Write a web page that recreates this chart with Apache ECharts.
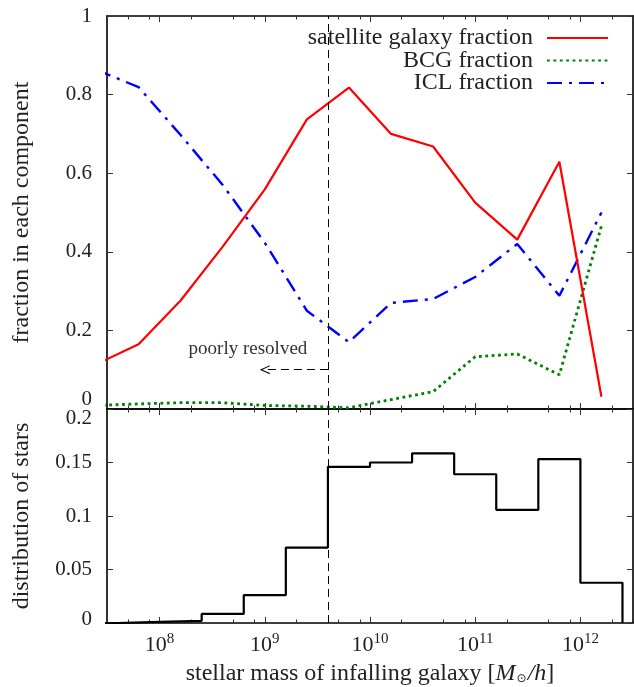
<!DOCTYPE html>
<html><head><meta charset="utf-8">
<script src="https://cdn.jsdelivr.net/npm/echarts@6/dist/echarts.min.js"></script>
<style>html,body{margin:0;padding:0;background:#fff}#c{width:634px;height:687px}</style>
</head><body><div id="c"></div>
<script>
// ---- data (x in log10 of stellar mass) ----
const logMass       = [7.4, 7.8, 8.2, 8.6, 9.0, 9.4, 9.8, 10.2, 10.6, 11.0, 11.4, 11.8, 12.2];
const satelliteFrac = [0.114, 0.165, 0.276, 0.413, 0.559, 0.737, 0.818, 0.700, 0.668, 0.525, 0.431, 0.629, 0.031];
const bcgFrac       = [0.009, 0.013, 0.016, 0.016, 0.009, 0.007, 0.003, 0.024, 0.044, 0.133, 0.140, 0.087, 0.466];
const iclFrac       = [0.863, 0.819, 0.697, 0.570, 0.423, 0.250, 0.170, 0.270, 0.280, 0.336, 0.420, 0.288, 0.500];
const binLowEdges   = [7.2, 7.6, 8.0, 8.4, 8.8, 9.2, 9.6, 10.0, 10.4, 10.8, 11.2, 11.6, 12.0];
const starDist      = [0, 0.001, 0.002, 0.0085, 0.026, 0.0705, 0.146, 0.150, 0.1586, 0.139, 0.1058, 0.1532, 0.0376];
const histEnd = 12.4;
const majorTicks = [8, 9, 10, 11, 12];
const minorMultipliers = [2, 5, 8];
const fracTicks = [0, 0.2, 0.4, 0.6, 0.8, 1];
const distTicks = [0, 0.05, 0.1, 0.15, 0.2];
const resolutionLimit = 9.6;
const arrowTip = 9.0, arrowLevel = 0.1;
const noteText = 'poorly resolved', notePos = [8.84, 0.152];
const seriesNames = ['satellite galaxy fraction', 'BCG fraction', 'ICL fraction'];
const xMin = 7.5, xMax = 12.5;

const minorTicks = [];
for (let d = 7; d <= 12; d++) minorMultipliers.forEach(m => {
  const v = d + Math.log10(m); if (v > xMin && v < xMax) minorTicks.push(v);
});

const FONT = '"Liberation Serif", "DejaVu Serif", serif';
const TXT = '#222';

function xAx(grid, pos, ticks, len, line, extra) {
  return Object.assign({
    type: 'value', gridIndex: grid, position: pos, min: xMin, max: xMax,
    axisLine: {show: line, onZero: false, lineStyle: {color: '#000', width: 1.6}},
    axisTick: {show: true, inside: true, length: len, customValues: ticks, lineStyle: {color: '#333', width: 1}},
    axisLabel: {show: false}, splitLine: {show: false}
  }, extra || {});
}
function yAx(grid, pos, ticks, extra) {
  return Object.assign({
    type: 'value', gridIndex: grid, position: pos, min: ticks[0], max: ticks[ticks.length - 1],
    axisLine: {show: true, onZero: false, lineStyle: {color: '#000', width: 1.6}},
    axisTick: {show: true, inside: true, length: 6, customValues: ticks, lineStyle: {color: '#333', width: 1}},
    axisLabel: {show: false}, splitLine: {show: false}
  }, extra || {});
}
const lblBase = {fontFamily: FONT, fontSize: 21, color: TXT};

const option = {
  animation: false,
  backgroundColor: '#fff',
  grid: [
    {left: 107, top: 16, width: 526, height: 393},
    {left: 107, top: 409, width: 526, height: 215}
  ],
  legend: {
    data: seriesNames, orient: 'vertical', right: 20, top: 21, align: 'right',
    itemWidth: 61, itemHeight: 10, itemGap: -1.5,
    itemStyle: {opacity: 0},
    textStyle: {fontFamily: FONT, fontSize: 24, color: TXT, lineHeight: 22.5, padding: [0, 9, 0, 0]}
  },
  xAxis: [
    xAx(0, 'bottom', majorTicks, 6, true),
    xAx(0, 'bottom', minorTicks, 3.5, false),
    xAx(0, 'top', majorTicks, 6, true),
    xAx(0, 'top', minorTicks, 3.5, false),
    xAx(1, 'bottom', majorTicks, 6, true, {
      axisLabel: {show: true, customValues: majorTicks, margin: 9,
        formatter: v => '{b|10}{s|' + v + '}',
        rich: {b: Object.assign({}, lblBase, {fontSize: 22}), s: Object.assign({}, lblBase, {fontSize: 15, padding: [0, 0, 12, 0]})}},
      name: 'stellar mass of infalling galaxy [{i|M}{sub|⊙}{i|/h}]',
      nameLocation: 'middle', nameGap: 39,
      nameTextStyle: {fontFamily: FONT, fontSize: 24, color: TXT,
        rich: {i: {fontFamily: FONT, fontSize: 24, fontStyle: 'italic', color: TXT},
               sub: {fontFamily: '"DejaVu Sans", sans-serif', fontSize: 12, color: TXT, padding: [10, 1, 0, 1]}}}
    }),
    xAx(1, 'bottom', minorTicks, 3.5, false),
    xAx(1, 'top', majorTicks, 6, true),
    xAx(1, 'top', minorTicks, 3.5, false)
  ],
  yAxis: [
    yAx(0, 'left', fracTicks, {
      axisLabel: {show: true, customValues: fracTicks, margin: 15,
        fontFamily: FONT, fontSize: 21, color: TXT,
        formatter: v => v === 0 ? '{up|0}' : String(v),
        rich: {up: Object.assign({}, lblBase, {padding: [0, 0, 20, 0]})}},
      name: 'fraction in each component', nameLocation: 'middle', nameRotate: 90, nameGap: 73,
      nameTextStyle: {fontFamily: FONT, fontSize: 24, color: TXT}
    }),
    yAx(0, 'right', fracTicks),
    yAx(1, 'left', distTicks, {
      axisLabel: {show: true, customValues: distTicks, margin: 15,
        fontFamily: FONT, fontSize: 21, color: TXT,
        formatter: v => v === 0 ? '{lo|0}' : (v === 0.2 ? '{dn|0.2}' : String(v)),
        rich: {lo: Object.assign({}, lblBase, {padding: [0, 0, 8, 0]}),
               dn: Object.assign({}, lblBase, {padding: [18, 0, 0, 0]})}},
      name: 'distribution of stars', nameLocation: 'middle', nameRotate: 90, nameGap: 73,
      nameTextStyle: {fontFamily: FONT, fontSize: 24, color: TXT}
    }),
    yAx(1, 'right', distTicks)
  ],
  series: [
    {
      name: seriesNames[0], type: 'line', xAxisIndex: 0, yAxisIndex: 0, symbol: 'none', z: 4,
      data: logMass.map((x, i) => [x, satelliteFrac[i]]),
      color: '#ff0000', lineStyle: {color: '#ff0000', width: 2.2},
      markLine: {
        silent: true, symbol: 'none', label: {show: false}, animation: false,
        lineStyle: {color: '#000', width: 1, type: [8, 5]},
        data: [
          {xAxis: resolutionLimit},
          [{coord: [resolutionLimit, arrowLevel], symbol: 'none'},
           {coord: [arrowTip, arrowLevel], symbol: 'path://M0,10 L5,0 L10,10 L8.8,10 L5,2.6 L1.2,10 Z', symbolSize: [9, 10]}]
        ]
      },
      markPoint: {
        silent: true, symbol: 'circle', symbolSize: 1, itemStyle: {color: 'rgba(0,0,0,0)'},
        label: {show: true, position: 'inside', formatter: noteText, fontFamily: FONT, fontSize: 19, color: '#333'},
        data: [{coord: notePos}]
      }
    },
    {
      name: seriesNames[1], type: 'line', xAxisIndex: 0, yAxisIndex: 0, symbol: 'none', z: 3,
      data: logMass.map((x, i) => [x, bcgFrac[i]]),
      color: '#008000', lineStyle: {color: '#008000', width: 2.8, type: [2.8, 3.6]}
    },
    {
      name: seriesNames[2], type: 'line', xAxisIndex: 0, yAxisIndex: 0, symbol: 'none', z: 3,
      data: logMass.map((x, i) => [x, iclFrac[i]]),
      color: '#0000ff', lineStyle: {color: '#0000ff', width: 2.4, type: [15, 7, 3, 7]}
    },
    {
      name: 'distribution of stars', type: 'line', xAxisIndex: 4, yAxisIndex: 2, symbol: 'none', step: 'end', z: 3,
      data: binLowEdges.map((x, i) => [x, starDist[i]]).concat([[histEnd, 0]]),
      color: '#000', lineStyle: {color: '#000', width: 2.2},
      markLine: {
        silent: true, symbol: 'none', label: {show: false}, animation: false,
        lineStyle: {color: '#000', width: 1, type: [8, 5]},
        data: [{xAxis: resolutionLimit}]
      }
    }
  ]
};
const chart = echarts.init(document.getElementById('c'), null, {renderer: 'canvas'});
chart.setOption(option);
</script></body></html>
